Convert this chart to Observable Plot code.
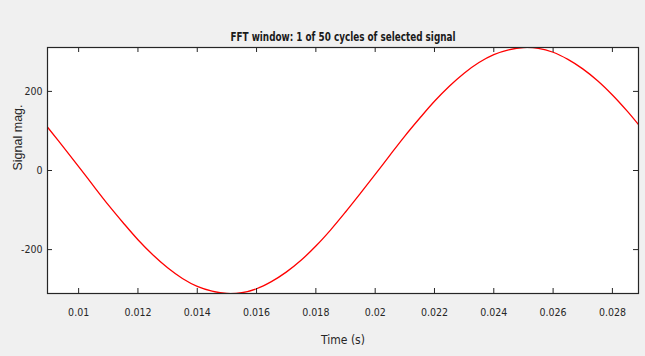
<!DOCTYPE html>
<html>
<head>
<meta charset="utf-8">
<script src="https://cdn.jsdelivr.net/npm/d3@7"></script>
<script src="https://cdn.jsdelivr.net/npm/@observablehq/plot@0.6"></script>
<style>
  html, body { margin: 0; padding: 0; background: #f0f0f0; }
  #chart svg { display: block; }
</style>
</head>
<body>
<div id="chart"></div>
<script>
// Time samples (s)
const times = [0.0089, 0.009, 0.0095, 0.010, 0.0105, 0.011, 0.0115, 0.012, 0.0125, 0.013, 0.0135,
  0.014, 0.0145, 0.015, 0.0155, 0.016, 0.0165, 0.017, 0.0175, 0.018, 0.0185,
  0.019, 0.0195, 0.020, 0.0205, 0.021, 0.0215, 0.022, 0.0225, 0.023, 0.0235,
  0.024, 0.0245, 0.025, 0.0255, 0.026, 0.0265, 0.027, 0.0275, 0.028, 0.0285, 0.029];
// Signal magnitude read at those times
const signal = [114, 105, 58, 10, -39, -87, -132, -175, -213, -246, -273,
  -293, -305, -311, -309, -299, -281, -257, -227, -191, -150,
  -105, -58, -10, 39, 87, 132, 175, 213, 246, 273,
  293, 305, 311, 309, 299, 281, 257, 227, 191, 150, 105];

const xTicks = [0.01, 0.012, 0.014, 0.016, 0.018, 0.02, 0.022, 0.024, 0.026, 0.028];
const yTicks = [-200, 0, 200];
const titleText = "FFT window: 1 of 50 cycles of selected signal";
const xLabel = "Time (s)";
const yLabel = "Signal mag.";

const data = times.map((t, i) => ({t, v: signal[i]}));

const W = 645, H = 356, mL = 47, mR = 7, mT = 47, mB = 63;
const frameW = W - mL - mR, frameH = H - mT - mB;
const narrow = "'Liberation Sans Narrow', 'DejaVu Sans Condensed', 'Roboto Condensed', sans-serif";
const axisColor = "#262626";

const chart = Plot.plot({
  width: W, height: H,
  marginLeft: mL, marginRight: mR, marginTop: mT, marginBottom: mB,
  style: {background: "#f0f0f0", fontFamily: narrow, fontSize: "11px", color: axisColor},
  x: {domain: [0.00895, 0.02888]},
  y: {domain: [-311, 311]},
  marks: [
    Plot.frame({fill: "white", stroke: null}),
    Plot.line(data, {x: "t", y: "v", stroke: "#ff0000", strokeWidth: 1.3, curve: "catmull-rom", clip: true}),
    Plot.tickX(xTicks, {x: d => d, insetTop: frameH - 5, stroke: axisColor}),
    Plot.tickX(xTicks, {x: d => d, insetBottom: frameH - 5, stroke: axisColor}),
    Plot.tickY(yTicks, {y: d => d, insetRight: frameW - 5, stroke: axisColor}),
    Plot.tickY(yTicks, {y: d => d, insetLeft: frameW - 5, stroke: axisColor}),
    Plot.axisX({ticks: xTicks, tickSize: 0, tickPadding: 15, label: null, fontSize: 10.5,
      tickFormat: d => String(+d.toFixed(3)), fill: axisColor}),
    Plot.axisY({ticks: yTicks, tickSize: 0, tickPadding: 5, label: null, fontSize: 10.5,
      tickFormat: d => String(d), fill: axisColor}),
    Plot.frame({stroke: axisColor, strokeWidth: 1.2}),
    Plot.text([titleText], {frameAnchor: "top", dy: -16, fontSize: 13, fontWeight: "bold",
      fill: "#1a1a1a", fontFamily: narrow, className: "chart-title"}),
    Plot.text([xLabel], {frameAnchor: "bottom", dy: 50, fontSize: 12, fill: axisColor}),
    Plot.text([yLabel], {frameAnchor: "left", dx: -30, rotate: -90, fontSize: 12.5,
      fill: axisColor, fontFamily: "'Liberation Sans', Arial, sans-serif"})
  ]
});
document.getElementById("chart").append(chart);
// squeeze the title horizontally like the reference (still real text)
d3.select(chart).selectAll(".chart-title text")
  .attr("textLength", 225).attr("lengthAdjust", "spacingAndGlyphs");
</script>
</body>
</html>
